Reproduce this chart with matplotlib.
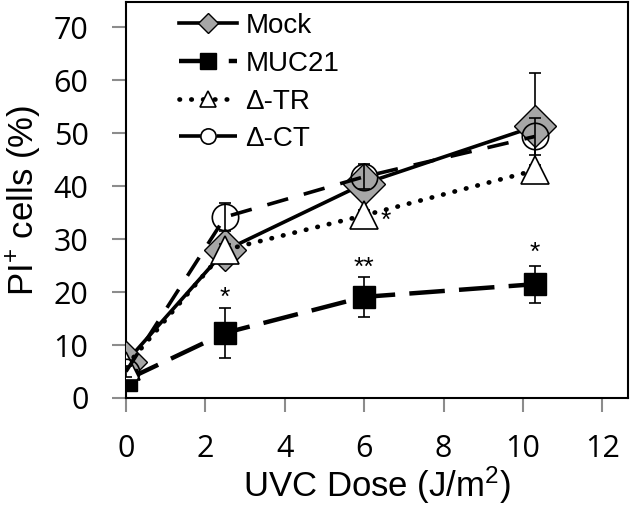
import matplotlib
matplotlib.use("Agg")
import matplotlib.pyplot as plt
from matplotlib.lines import Line2D

# UVC dose (J/m2)
dose = [0, 2.5, 6, 10.3]

mock = [6.8, 27.9, 40.5, 51.3]
mock_err = [1.0, 1.0, 1.5, 10.0]
muc21 = [3.4, 12.3, 19.1, 21.5]
muc21_err = [1.0, 4.7, 3.8, 3.5]
d_tr = [6.0, 28.0, 34.5, 43.0]
d_tr_err = [1.0, 1.0, 1.0, 1.0]
d_ct = [5.0, 34.2, 41.8, 49.4]
d_ct_err = [1.0, 2.6, 2.4, 3.5]

labels = ["Mock", "MUC21", "Δ-TR", "Δ-CT"]

# significance marks: (x, y, text)
sig_marks = [(2.5, 19.0, "*"), (6.0, 24.5, "**"), (10.3, 27.5, "*"), (6.55, 33.5, "*")]

plt.rcParams["mathtext.fontset"] = "custom"
plt.rcParams["mathtext.rm"] = "Liberation Sans"
plt.rcParams["mathtext.it"] = "Liberation Sans:italic"

fig = plt.figure(figsize=(6.3, 5.07), dpi=100)
ax = fig.add_axes([0.2, 0.215, 0.797, 0.781])

styles = [
    dict(color="black", lw=2.6, ls="-", marker="D", ms=21, mfc="#a6a6a6", mec="black", mew=1.0),
    dict(color="black", lw=3.2, ls=(0, (8, 3.2)), marker="s", ms=16.5, mfc="black", mec="black"),
    dict(color="black", lw=3.4, ls=(0, (0.1, 2.4)), dash_capstyle="round", marker="^",
         ms=20, mfc="white", mec="black", mew=1.2),
    dict(color="black", lw=2.6, ls=(0, (6, 4.5)), marker="o", ms=19, mfc="none",
         mec="black", mew=1.2),
]
legend_ms = [10, 11, 11, 11]
series = [mock, muc21, d_tr, d_ct]
errs = [mock_err, muc21_err, d_tr_err, d_ct_err]
zs = [3, 3, 4, 5]

for y, e, st, z in zip(series, errs, styles, zs):
    ax.errorbar(dose, y, yerr=e, fmt="none", ecolor="black", elinewidth=1.2,
                capsize=4.5, capthick=1.2, zorder=z)
    ax.plot(dose, y, zorder=z, **st)

for x, y, s in sig_marks:
    ax.text(x, y, s, ha="center", va="center", fontsize=19, family="Liberation Sans")

ax.set_xlim(0, 12.65)
ax.set_ylim(0, 74.8)
ax.set_xticks(range(0, 13, 2))
ax.set_yticks(range(0, 71, 10))
ax.tick_params(axis="both", direction="out", length=10, width=1.5, color="#8c8c8c",
               labelsize=22)
ax.tick_params(axis="x", pad=16)
ax.tick_params(axis="y", pad=17)
for lab in ax.get_xticklabels() + ax.get_yticklabels():
    lab.set_family("Open Sans")
for sp in ax.spines.values():
    sp.set_linewidth(1.5)
    sp.set_color("black")

ax.set_xlabel("UVC Dose (J/m$^2$)", fontsize=25, family="Liberation Sans", labelpad=0)
ax.set_ylabel("PI$^{+}$ cells (%)", fontsize=25, family="Liberation Sans", labelpad=8)

handles = []
for st, m in zip(styles, legend_ms):
    h = dict(st)
    h["ms"] = m
    if h["marker"] == "o":
        h["mfc"] = "white"
    handles.append(Line2D([], [], **h))
ax.legend(handles, labels, loc="upper left", bbox_to_anchor=(0.055, 1.035), frameon=False,
          prop={"family": "Liberation Sans", "size": 20}, handlelength=2.1,
          labelspacing=0.42, handletextpad=0.3)

fig.savefig("out.png", dpi=100)
